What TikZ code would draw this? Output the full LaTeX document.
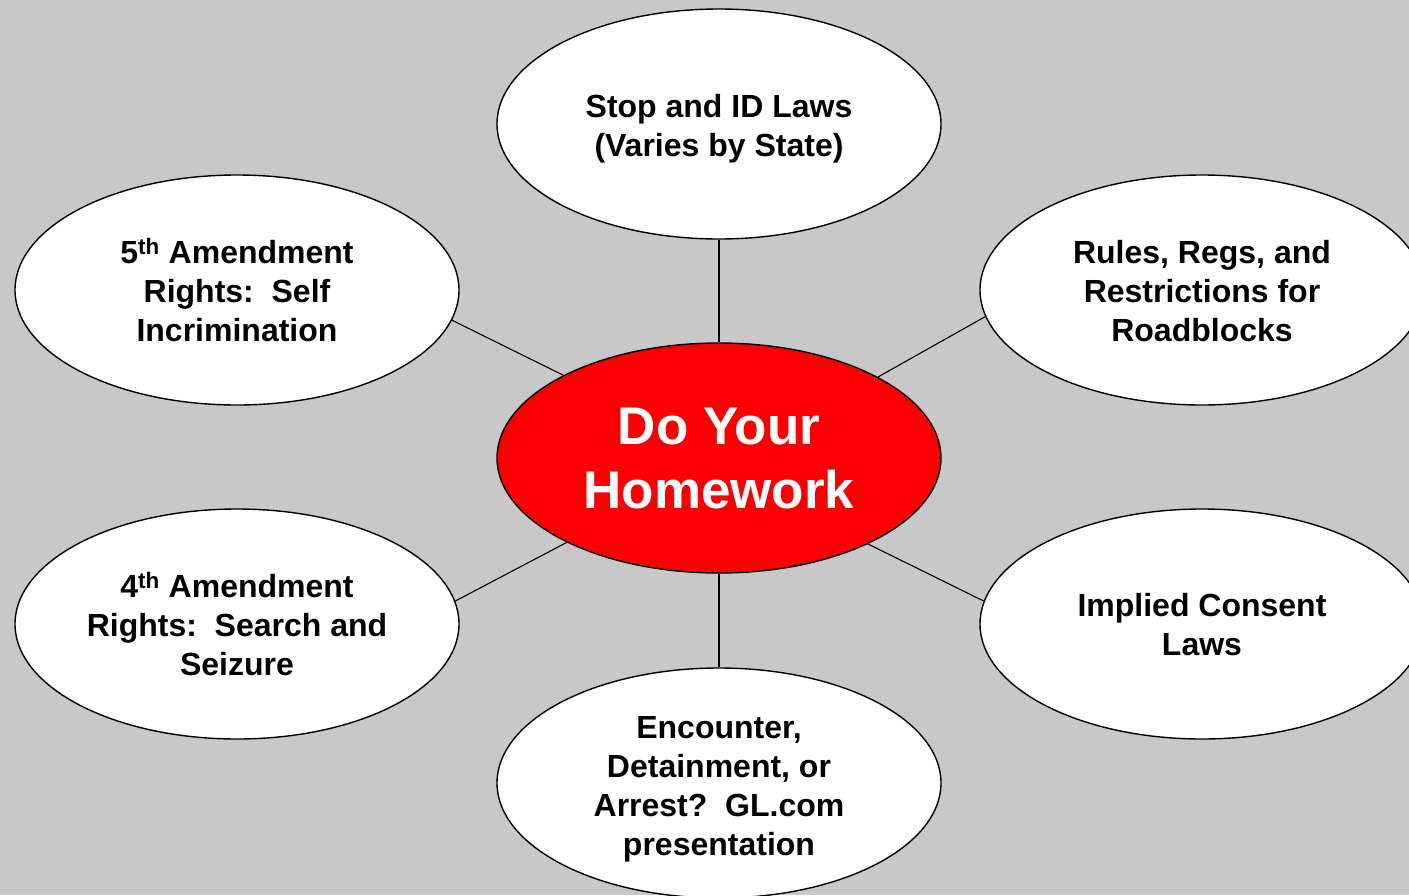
\documentclass[tikz,border=0pt]{standalone}
\usepackage{fontspec}
\setmainfont{Liberation Sans}
\definecolor{bggray}{RGB}{200,200,200}
\definecolor{hubred}{RGB}{250,0,0}
\usetikzlibrary{shapes.geometric}
\tikzset{
  topic/.style={ellipse, draw=black, line width=1.4pt, fill=white, minimum width=444pt, minimum height=230pt, inner sep=0pt},
  hub/.style={topic, fill=hubred},
  topictext/.style={align=center, inner sep=0pt, font=\fontsize{32}{39}\selectfont\bfseries},
  hubtext/.style={align=center, inner sep=0pt, text=white, font=\fontsize{53}{64}\selectfont\bfseries},
  link/.style={draw=black, line width=1.1pt}
}
\begin{document}
\begin{tikzpicture}[x=1pt,y=1pt]
\fill[bggray] (0,0) rectangle (1409,-895);
\useasboundingbox (0,0) rectangle (1409,-895);
\begin{scope}
\clip (0,0) rectangle (1409,-895);
\node[topic] (top) at (719,-124) {};
\node[topic] (lt) at (237,-290) {};
\node[topic] (rt) at (1202,-290) {};
\node[topic] (lb) at (237,-624) {};
\node[topic] (rb) at (1202,-624) {};
\node[topic] (bot) at (719,-783) {};
\node[hub] (hub) at (719,-458) {};
\node[topictext, yshift=-5pt] (toptext) at (top.center) {Stop and ID Laws\\(Varies by State)};
\node[topictext] (lttext) at (lt.center) {5\textsuperscript{th} Amendment\\Rights:\ \ Self\\Incrimination};
\node[topictext, yshift=-1.5pt] (rttext) at (rt.center) {Rules, Regs, and\\Restrictions for\\Roadblocks};
\node[topictext] (lbtext) at (lb.center) {4\textsuperscript{th} Amendment\\Rights:\ \ Search and\\Seizure};
\node[topictext, yshift=-1pt] (rbtext) at (rb.center) {Implied Consent\\Laws};
\node[topictext, yshift=-6pt] (bottext) at (bot.center) {Encounter,\\Detainment, or\\Arrest?\ \ GL.com\\presentation};
\node[hubtext, yshift=-1pt] (hubtext) at (hub.center) {Do Your\\Homework};
\draw[link] (hub.north) -- (top.south);
\draw[link] (hub.south) -- (bot.north);
\draw[link] (hub.152.6) -- (lt.352.2);
\draw[link] (hub.27.4) -- (rt.187.6);
\draw[link] (hub.209.7) -- (lb.6);
\draw[link] (hub.330.6) -- (rb.174);
\end{scope}
\end{tikzpicture}
\end{document}
